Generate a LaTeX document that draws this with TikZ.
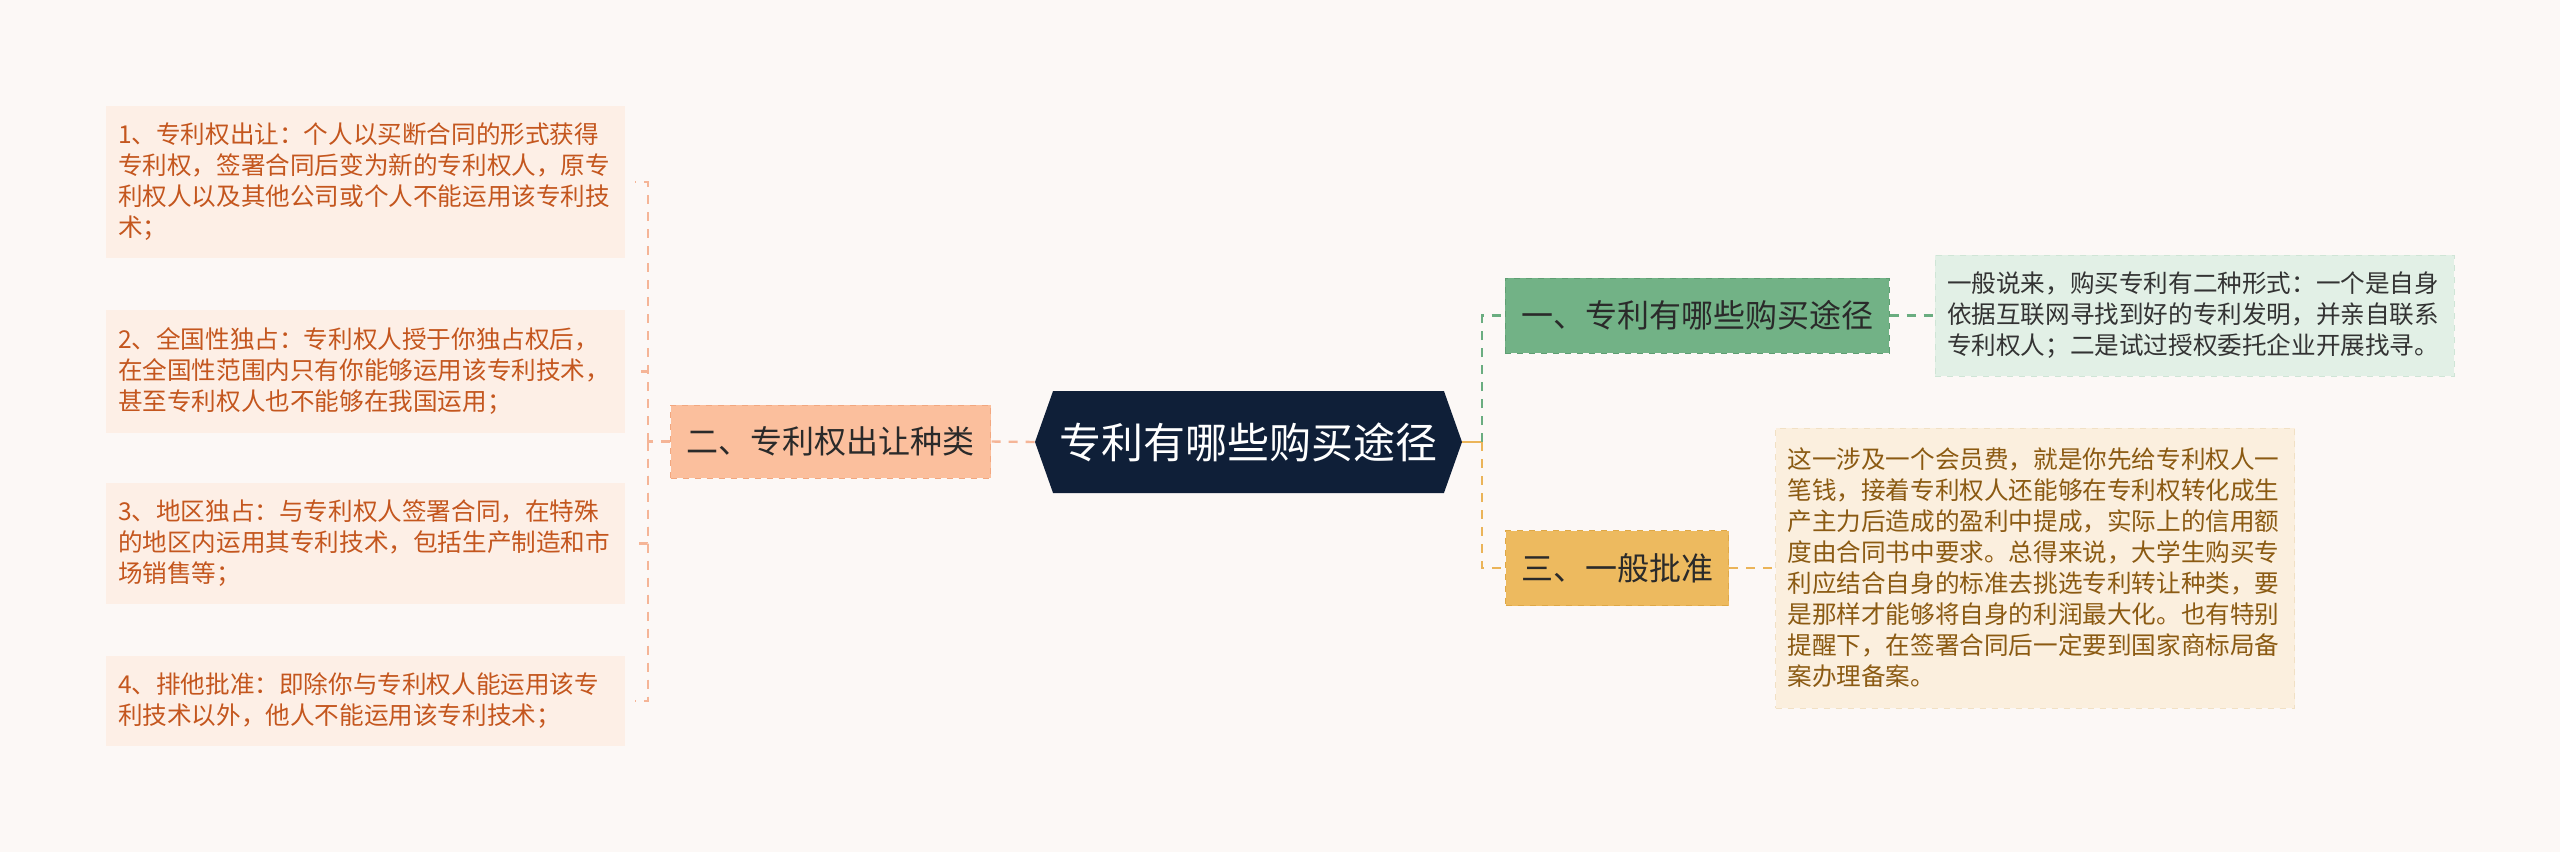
\documentclass[tikz,border=0pt]{standalone}
\usepackage{fontspec}
\setmainfont{Noto Sans CJK SC}
\usetikzlibrary{shapes.symbols}

\definecolor{bgpage}{HTML}{FCF8F6}
\definecolor{rootfill}{HTML}{0F1F38}
\definecolor{peachfill}{HTML}{FBBF9D}
\definecolor{peachdraw}{HTML}{F2A77F}
\definecolor{peachleaf}{HTML}{FDEFE6}
\definecolor{peachtext}{HTML}{C4561E}
\definecolor{peachlink}{HTML}{F5B597}
\definecolor{greenfill}{HTML}{72B286}
\definecolor{greendraw}{HTML}{5E9E72}
\definecolor{greenleaf}{HTML}{E2F0E6}
\definecolor{greenleafdraw}{HTML}{CFE5D6}
\definecolor{greenlink}{HTML}{6AAD80}
\definecolor{orangefill}{HTML}{EDBA5F}
\definecolor{orangedraw}{HTML}{DFA846}
\definecolor{orangeleaf}{HTML}{FBEFDE}
\definecolor{orangeleafdraw}{HTML}{F1E0C4}
\definecolor{orangetext}{HTML}{8B5A12}
\definecolor{orangelink}{HTML}{EBB458}
\definecolor{branchtext}{HTML}{2A2A2A}
\definecolor{darktext}{HTML}{333333}

\begin{document}
\begin{tikzpicture}[x=0.5pt,y=-0.5pt]
\tikzset{
  rootnode/.style={shape=signal,signal to=west and east,signal pointer angle=141,fill=rootfill,text=white,minimum width=213.5pt,minimum height=51pt,inner sep=0pt,font=\fontsize{21}{25}\selectfont},
  branchnode/.style={rectangle,dashed,line width=0.5pt,inner sep=0pt,text=branchtext,font=\fontsize{16}{19}\selectfont},
  leafnode/.style={rectangle,inner xsep=6pt,inner ysep=0pt,text width=247.5pt,align=left,font=\fontsize{12.3}{15.5}\selectfont},
  link/.style={dash pattern=on 4.5pt off 4pt,line width=1.2pt}
}
\fill[bgpage] (0,0) rectangle (2560,852);
\useasboundingbox (0,0) rectangle (2560,852);
\node[rootnode] (n_root) at (1248.5,442) {专利有哪些购买途径};
\node[branchnode,fill=peachfill,draw=peachdraw,minimum width=160pt,minimum height=36.5pt] (n_b_2) at (830.5,441.5) {二、专利权出让种类};
\node[branchnode,fill=greenfill,draw=greendraw,minimum width=192pt,minimum height=37.5pt] (n_b_1) at (1697,315.5) {一、专利有哪些购买途径};
\node[branchnode,fill=orangefill,draw=orangedraw,minimum width=111.5pt,minimum height=37.5pt] (n_b_3) at (1617,568) {三、一般批准};
\node[leafnode,fill=peachleaf,text=peachtext,minimum height=76pt] (n_l_1) at (365.5,182) {1、专利权出让：个人以买断合同的形式获得\\专利权，签署合同后变为新的专利权人，原专\\利权人以及其他公司或个人不能运用该专利技\\术；};
\node[leafnode,fill=peachleaf,text=peachtext,minimum height=61.5pt] (n_l_2) at (365.5,371.5) {2、全国性独占：专利权人授于你独占权后，\\在全国性范围内只有你能够运用该专利技术，\\甚至专利权人也不能够在我国运用；};
\node[leafnode,fill=peachleaf,text=peachtext,minimum height=60.5pt] (n_l_3) at (365.5,543.5) {3、地区独占：与专利权人签署合同，在特殊\\的地区内运用其专利技术，包括生产制造和市\\场销售等；};
\node[leafnode,fill=peachleaf,text=peachtext,minimum height=45pt] (n_l_4) at (365.5,701) {4、排他批准：即除你与专利权人能运用该专\\利技术以外，他人不能运用该专利技术；};
\node[leafnode,fill=greenleaf,draw=greenleafdraw,dashed,line width=0.5pt,text=darktext,minimum height=60.5pt] (n_r_1) at (2194.5,315.5) {一般说来，购买专利有二种形式：一个是自身\\依据互联网寻找到好的专利发明，并亲自联系\\专利权人；二是试过授权委托企业开展找寻。};
\node[leafnode,fill=orangeleaf,draw=orangeleafdraw,dashed,line width=0.5pt,text=orangetext,minimum height=140pt] (n_r_3) at (2035,568) {这一涉及一个会员费，就是你先给专利权人一\\笔钱，接着专利权人还能够在专利权转化成生\\产主力后造成的盈利中提成，实际上的信用额\\度由合同书中要求。总得来说，大学生购买专\\利应结合自身的标准去挑选专利转让种类，要\\是那样才能够将自身的利润最大化。也有特别\\提醒下，在签署合同后一定要到国家商标局备\\案办理备案。};
\coordinate (j_left) at (648,441.5);
\coordinate (j_right) at (1482,442);
% left side
\draw[link,peachlink] (n_root.west) -- (n_b_2.east);
\draw[link,peachlink] (n_b_2.west) -- (j_left);
\foreach \i in {1,...,4}
  \draw[link,peachlink,shorten >=5pt] (j_left) |- (n_l_\i.east);
% right side
\draw[orangelink,line width=1.2pt] (n_root.east) -- (j_right);
\draw[link,greenlink] (j_right) |- (n_b_1.west);
\draw[link,orangelink] (j_right) |- (n_b_3.west);
\draw[link,greenlink] (n_b_1.east) -- (n_r_1.west);
\draw[link,orangelink] (n_b_3.east) -- (n_r_3.west);
\end{tikzpicture}
\end{document}
